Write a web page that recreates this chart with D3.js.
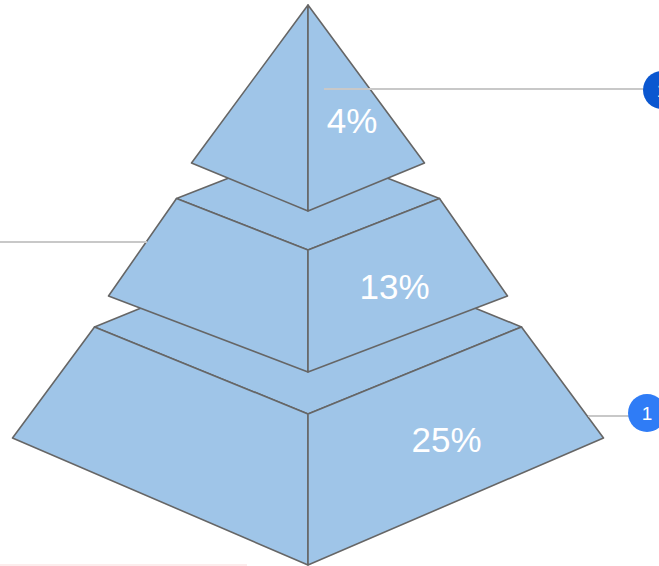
<!DOCTYPE html>
<html><head><meta charset="utf-8">
<script src="https://cdn.jsdelivr.net/npm/d3@7"></script>
<style>html,body{margin:0;padding:0;background:#fff;overflow:hidden}svg{display:block}</style>
</head><body>
<script>
// ---- data ----
const categories = ["Top", "Middle", "Bottom"];
const values = [4, 13, 25];
const valueLabels = values.map(v => v + "%");
const badgeLabels = ["1", "1"];

const W = 659, H = 566;
const svg = d3.select("body").append("svg").attr("width", W).attr("height", H);

// pyramid layout (level 0 = apex, 1 = base)
const cx = 308;
const yScale = d3.scaleLinear().domain([0, 1]).range([5, 438]);
const layout = [
  {t0: 0,      t1: 0.3649, w0: 0,     w1: 116.5, d0: 0,    d1: 48,  lx: 352, ly: 133},
  {t0: 0.4469, t1: 0.6721, w0: 131.5, w1: 199.5, d0: 51.5, d1: 76,  lx: 394.5, ly: 299},
  {t0: 0.7436, t1: 1,      w0: 213.5, w1: 295.5, d0: 87,   d1: 127, lx: 446.5, ly: 452}
];
const fill = "#9fc5e8", stroke = "#666666";
const line = d3.line();

// leader lines
const leaders = [
  [[0, 565], [247, 565], "#fcecec"],
  [[0, 242], [147, 242], "#c8c8c8"],
  [[588, 416], [630, 416], "#c8c8c8"],
  [[324, 89], [645, 89], "#c8c8c8"]
];

// draw bottom first
const order = d3.range(categories.length).reverse();
leaders.slice(0,1).forEach(l => svg.append("path").attr("d", line([l[0], l[1]])).attr("stroke", l[2]).attr("stroke-width", 2).attr("fill", "none"));

order.forEach(i => {
  const L = layout[i];
  const yt = yScale(L.t0), yb = yScale(L.t1);
  const g = svg.append("g");
  if (L.w0 > 0) {
    // top face diamond
    g.append("path").attr("d", line([[cx - L.w0, yt], [cx, yt - L.d0], [cx + L.w0, yt], [cx, yt + L.d0]]) + "Z")
      .attr("fill", fill).attr("stroke", stroke).attr("stroke-width", 1.6).attr("stroke-linejoin", "round");
  }
  // left front face
  g.append("path").attr("d", line([[cx - L.w0, yt], [cx, yt + L.d0], [cx, yb + L.d1], [cx - L.w1, yb]]) + "Z")
    .attr("fill", fill).attr("stroke", stroke).attr("stroke-width", 1.6).attr("stroke-linejoin", "round");
  // right front face
  g.append("path").attr("d", line([[cx, yt + L.d0], [cx + L.w0, yt], [cx + L.w1, yb], [cx, yb + L.d1]]) + "Z")
    .attr("fill", fill).attr("stroke", stroke).attr("stroke-width", 1.6).attr("stroke-linejoin", "round");
  g.append("text").attr("x", L.lx).attr("y", L.ly).attr("text-anchor", "middle")
    .attr("font-family", "Liberation Sans, Arial, sans-serif").attr("font-size", 35)
    .attr("fill", "#ffffff").text(valueLabels[i]);
});

leaders.slice(1).forEach(l => svg.append("path").attr("d", line([l[0], l[1]])).attr("stroke", l[2]).attr("stroke-width", 2).attr("fill", "none"));

// badges
const badges = [
  {x: 662, y: 90, c: "#0b57d0"},
  {x: 647, y: 413, c: "#2f7cf6"}
];
badges.forEach((b, i) => {
  svg.append("circle").attr("cx", b.x).attr("cy", b.y).attr("r", 19).attr("fill", b.c);
  svg.append("text").attr("x", b.x).attr("y", b.y + 7).attr("text-anchor", "middle")
    .attr("font-family", "Liberation Sans, Arial, sans-serif").attr("font-size", 19)
    .attr("fill", "#ffffff").text(badgeLabels[i]);
});
</script>
</body></html>
